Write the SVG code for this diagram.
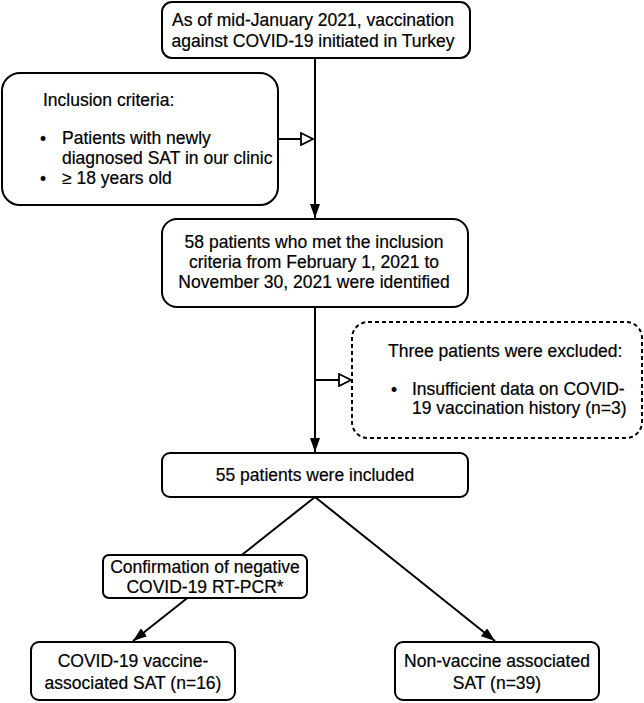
<svg xmlns="http://www.w3.org/2000/svg" width="644" height="703" viewBox="0 0 644 703">
<defs>
<style>
.box{fill:#fff;stroke:#000;stroke-width:2}
.dash{fill:#fff;stroke:#000;stroke-width:2;stroke-dasharray:4 3}
.t{font-family:"Liberation Sans",Arial,sans-serif;font-size:17.5px;fill:#000;stroke:#000;stroke-width:0.2}
.c{text-anchor:middle}
.ln{stroke:#000;stroke-width:2;fill:none}
</style>
<marker id="fill" markerWidth="14" markerHeight="10" refX="14" refY="5" orient="auto" markerUnits="userSpaceOnUse">
<path d="M0,0 L14,5 L0,10 Z" fill="#000"/>
</marker>
<marker id="hollow" markerWidth="14" markerHeight="14" refX="13" refY="7" orient="auto" markerUnits="userSpaceOnUse">
<path d="M1,1 L13,7 L1,13 Z" fill="#fff" stroke="#000" stroke-width="1.8"/>
</marker>
</defs>
<rect width="644" height="703" fill="#fff"/>
<g id="connectors">
<line class="ln" x1="315" y1="58" x2="315" y2="218" marker-end="url(#fill)"/>
<line class="ln" x1="278" y1="139" x2="313" y2="139" marker-end="url(#hollow)"/>
<line class="ln" x1="315" y1="307" x2="315" y2="452" marker-end="url(#fill)"/>
<line class="ln" x1="315" y1="380" x2="351" y2="380" marker-end="url(#hollow)"/>
<line class="ln" x1="315" y1="497" x2="133" y2="641" marker-end="url(#fill)"/>
<line class="ln" x1="315" y1="497" x2="495" y2="641" marker-end="url(#fill)"/>
</g>
<g id="start">
<rect class="box" x="162" y="2" width="308" height="56" rx="10"/>
<text class="t c" x="313" y="26">As of mid-January 2021, vaccination</text>
<text class="t c" x="313" y="47">against COVID-19 initiated in Turkey</text>
</g>
<g id="inclusion">
<rect class="box" x="2" y="73" width="276" height="132" rx="18"/>
<text class="t" x="43" y="106">Inclusion criteria:</text>
<text class="t" x="40" y="145">•</text>
<text class="t" x="62" y="144">Patients with newly</text>
<text class="t" x="62" y="164">diagnosed SAT in our clinic</text>
<text class="t" x="40" y="185">•</text>
<text class="t" x="62" y="184">≥ 18 years old</text>
</g>
<g id="identified">
<rect class="box" x="162" y="219" width="306" height="88" rx="15"/>
<text class="t c" x="314" y="248">58 patients who met the inclusion</text>
<text class="t c" x="314" y="268">criteria from February 1, 2021 to</text>
<text class="t c" x="314" y="288">November 30, 2021 were identified</text>
</g>
<g id="excluded">
<rect class="dash" x="352" y="322" width="290" height="116" rx="16"/>
<text class="t" x="388" y="357">Three patients were excluded:</text>
<text class="t" x="391" y="396">•</text>
<text class="t" x="412" y="395">Insufficient data on COVID-</text>
<text class="t" x="412" y="414">19 vaccination history (n=3)</text>
</g>
<g id="included">
<rect class="box" x="162" y="453" width="306" height="44" rx="8"/>
<text class="t c" x="315" y="481">55 patients were included</text>
</g>
<g id="confirmation">
<rect class="box" x="103" y="555" width="204" height="43" rx="6"/>
<text class="t c" x="205" y="573">Confirmation of negative</text>
<text class="t c" x="205" y="593">COVID-19 RT-PCR*</text>
</g>
<g id="vaccine">
<rect class="box" x="31" y="642" width="204" height="58" rx="8"/>
<text class="t c" x="133" y="667">COVID-19 vaccine-</text>
<text class="t c" x="133" y="689">associated SAT (n=16)</text>
</g>
<g id="nonvaccine">
<rect class="box" x="395" y="642" width="204" height="58" rx="8"/>
<text class="t c" x="497" y="667">Non-vaccine associated</text>
<text class="t c" x="497" y="689">SAT (n=39)</text>
</g>
</svg>
